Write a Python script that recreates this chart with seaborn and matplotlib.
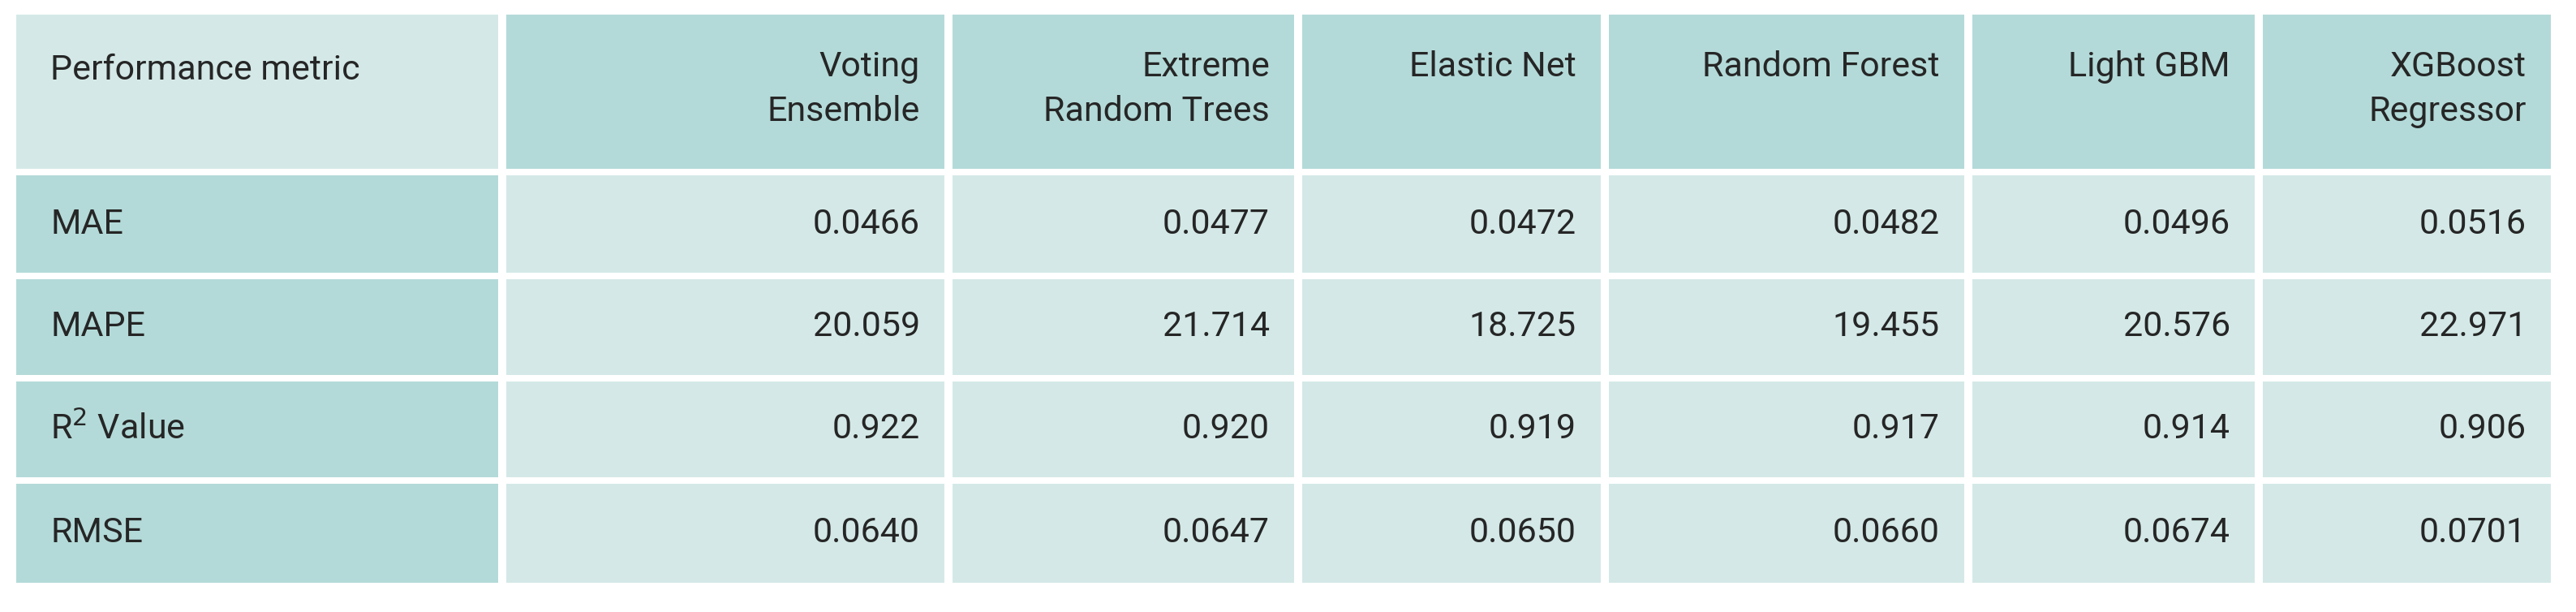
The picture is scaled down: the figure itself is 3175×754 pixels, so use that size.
import matplotlib
matplotlib.use("Agg")
import matplotlib.pyplot as plt
import seaborn as sns

# table content
models = ["Voting\nEnsemble", "Extreme\nRandom Trees", "Elastic Net", "Random Forest", "Light GBM", "XGBoost\nRegressor"]
metrics = ["MAE", "MAPE", "R$^2$ Value", "RMSE"]
mae = ["0.0466", "0.0477", "0.0472", "0.0482", "0.0496", "0.0516"]
mape = ["20.059", "21.714", "18.725", "19.455", "20.576", "22.971"]
r2 = ["0.922", "0.920", "0.919", "0.917", "0.914", "0.906"]
rmse = ["0.0640", "0.0647", "0.0650", "0.0660", "0.0674", "0.0701"]
rows = [mae, mape, r2, rmse]

DARK = "#b3dad8"
LIGHT = "#d4e9e7"

sns.set_theme(style="white")
plt.rcParams['font.family'] = ['Liberation Sans Narrow', 'Roboto', 'DejaVu Sans']

fig = plt.figure(figsize=(31.75, 7.54), dpi=100)
ax = fig.add_axes([0, 0, 1, 1])
ax.set_xlim(0, 3175)
ax.set_ylim(754, 0)
ax.axis('off')

col_edges = [20, 619, 1169, 1600, 1978, 2426, 2784, 3144]
row_edges = [18, 212, 340, 466, 592, 718]
gx, gy = 5, 4
fs = 31

def cell(c, r, color):
    x0, x1 = col_edges[c] + (gx if c > 0 else 0), col_edges[c + 1] - (gx if c < 6 else 0)
    y0, y1 = row_edges[r] + (gy if r > 0 else 0), row_edges[r + 1] - (gy if r < 4 else 0)
    ax.add_patch(plt.Rectangle((x0, y0), x1 - x0, y1 - y0, color=color, lw=0))
    return x0, x1, y0, y1

# header row
x0, x1, y0, y1 = cell(0, 0, LIGHT)
ax.text(x0 + 42, y0 + 68, "Performance metric", fontsize=fs, va='center', ha='left')
for j, m in enumerate(models):
    x0, x1, y0, y1 = cell(j + 1, 0, DARK)
    ax.text(x1 - 30, y0 + 44, m, fontsize=fs, va='top', ha='right', linespacing=1.45)

# body
for i, (name, vals) in enumerate(zip(metrics, rows)):
    x0, x1, y0, y1 = cell(0, i + 1, DARK)
    ax.text(x0 + 42, (y0 + y1) / 2, name, fontsize=fs, va='center', ha='left')
    for j, v in enumerate(vals):
        x0, x1, y0, y1 = cell(j + 1, i + 1, LIGHT)
        ax.text(x1 - 30, (y0 + y1) / 2, v, fontsize=fs, va='center', ha='right')

fig.savefig("out.png", dpi=100, facecolor="white")
